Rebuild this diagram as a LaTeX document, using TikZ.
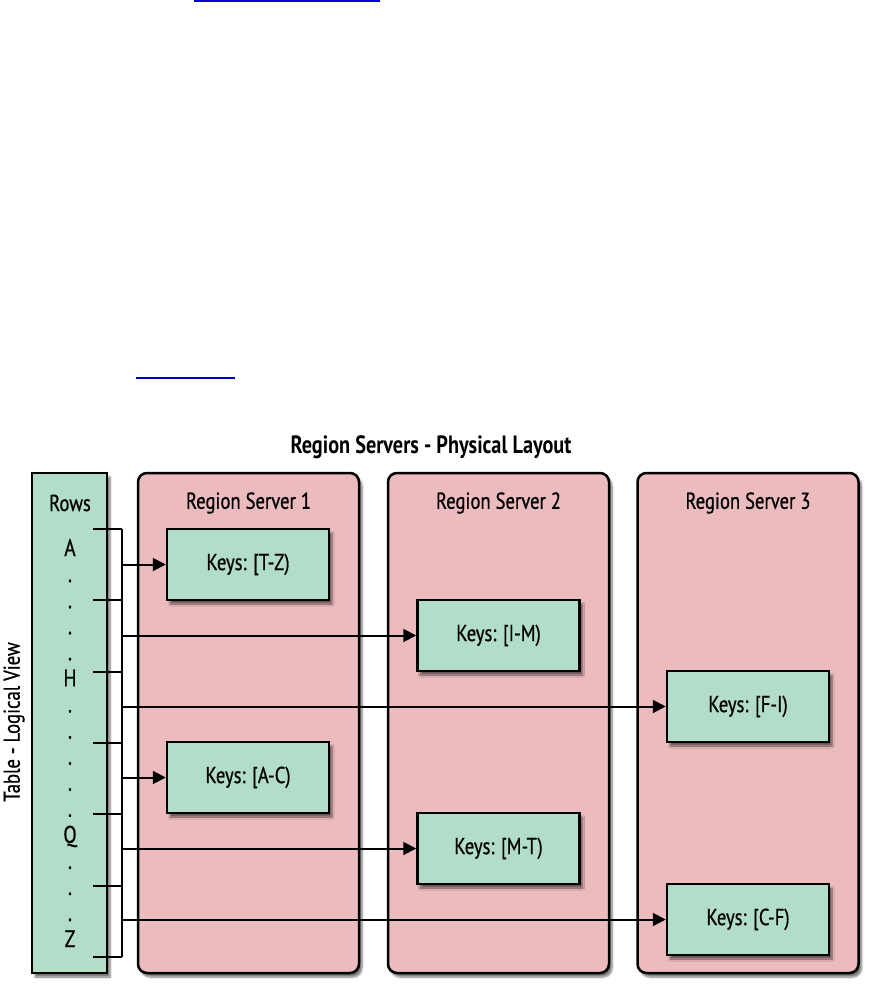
\documentclass[tikz,border=0pt]{standalone}
\usepackage{fontspec}
\setmainfont{PT Sans}[FakeStretch=0.81,FakeBold=0.7]
\newfontfamily\titlefont{PT Sans Bold}[FakeStretch=0.81]
\usetikzlibrary{arrows.meta,shadows.blur}
\definecolor{keygreen}{RGB}{178,222,201}
\definecolor{rspink}{RGB}{236,187,190}
\definecolor{linkblue}{RGB}{0,0,225}
\begin{document}
\begin{tikzpicture}[x=1pt,y=-1pt,
  softshade/.style={blur shadow={shadow xshift=3pt,shadow yshift=-4pt,shadow blur steps=6,shadow opacity=55}},
  rsbox/.style={draw=black,line width=2.5pt,fill=rspink,rounded corners=9pt,softshade,minimum width=221pt,minimum height=500pt,inner sep=0pt},
  rowbox/.style={draw=black,line width=2.5pt,fill=keygreen,softshade,minimum width=75pt,minimum height=500pt,inner sep=0pt},
  keybox/.style={draw=black,line width=2.5pt,fill=keygreen,softshade,minimum width=162pt,minimum height=71pt,inner sep=0pt,font=\fontsize{23}{26}\selectfont},
  lbl/.style={font=\fontsize{23}{26}\selectfont,inner sep=0pt},
  ttl/.style={font=\titlefont\fontsize{25}{28}\selectfont,inner sep=0pt},
  rowch/.style={font=\fontsize{24}{26}\selectfont,inner sep=0pt,anchor=base},
  conn/.style={line width=2pt,draw=black},
  arr/.style={line width=2pt,draw=black,-{Triangle[length=13pt,width=13pt]}}]
\useasboundingbox (0,0) rectangle (877,992);
% link underlines
\draw[linkblue,line width=2pt] (194,1) -- (380,1);
\draw[linkblue!85!black,line width=2pt] (136,378) -- (235,378);
% title
\node[ttl] (title) at (431,447) {Region Servers - Physical Layout};
% region servers
\node[rsbox] (rs1) at (248.5,723) {};
\node[rsbox] (rs2) at (498.5,723) {};
\node[rsbox] (rs3) at (748,723) {};
\node[lbl] (rs1l) at (248.5,503) {Region Server 1};
\node[lbl] (rs2l) at (498.5,503) {Region Server 2};
\node[lbl] (rs3l) at (748,503) {Region Server 3};
% rows table
\node[rowbox] (rows) at (69.5,723) {};
\node[lbl] (rowsl) at (70,503) {Rows};
\node[lbl,rotate=90] (tlv) at (14,722) {Table - Logical View};
\foreach \c [count=\i from 0] in {A,.,.,.,.,H,.,.,.,.,.,Q,.,.,.,Z}{
  \node[rowch] (ch\i) at (70,{556+\i*26.07}) {\c};
}
% key boxes
\node[keybox] (tz) at (248,564.5) {Keys: [T-Z)};
\node[keybox] (ac) at (248,777.5) {Keys: [A-C)};
\node[keybox] (im) at (498.5,635.5) {Keys: [I-M)};
\node[keybox] (mt) at (498.5,848.5) {Keys: [M-T)};
\node[keybox] (fi) at (748,706.5) {Keys: [F-I)};
\node[keybox] (cf) at (748,919.5) {Keys: [C-F)};
% bracket
\foreach \y [count=\k] in {529,600.3,671.7,743,814.3,885.7,957}{
  \coordinate (tl\k) at (93,\y);
  \coordinate (tr\k) at (122,\y);
  \draw[conn] (tl\k) -- (tr\k);
}
\draw[conn] (tr1) -- (tr7);
% arrows
\coordinate (s1) at (122,564.5);
\coordinate (s2) at (122,635.5);
\coordinate (s3) at (122,706.5);
\coordinate (s4) at (122,777.5);
\coordinate (s5) at (122,848.5);
\coordinate (s6) at (122,919.5);
\draw[arr] (s1) -- (tz.west);
\draw[arr] (s2) -- (im.west);
\draw[arr] (s3) -- (fi.west);
\draw[arr] (s4) -- (ac.west);
\draw[arr] (s5) -- (mt.west);
\draw[arr] (s6) -- (cf.west);
\end{tikzpicture}
\end{document}
